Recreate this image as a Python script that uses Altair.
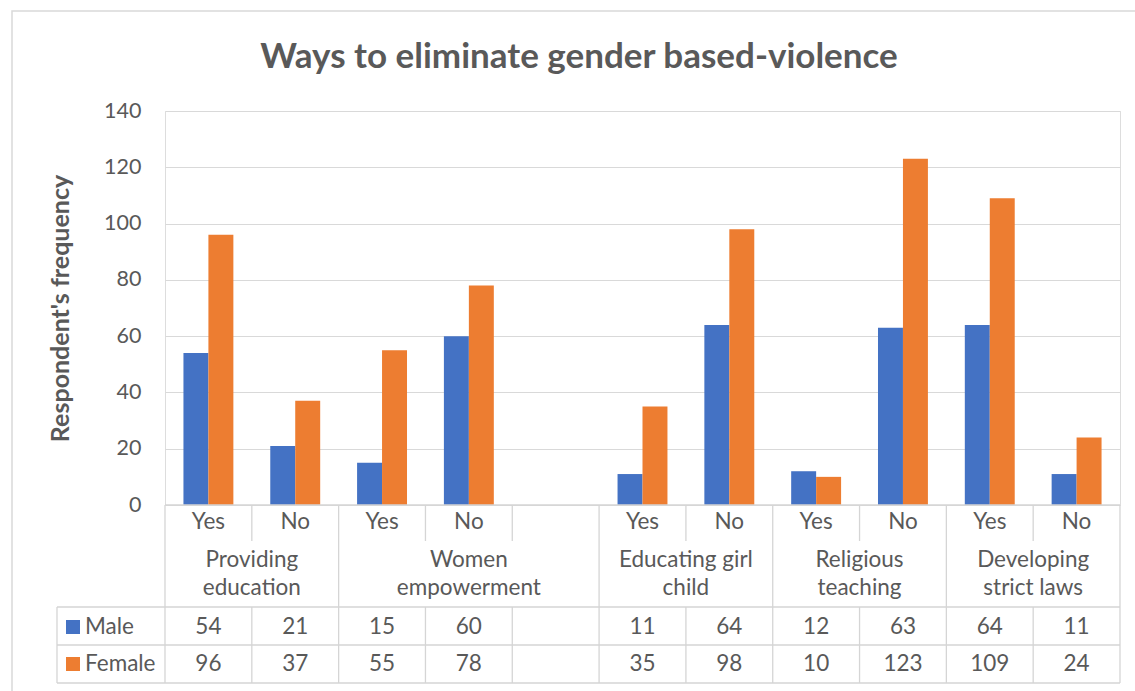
import altair as alt
import pandas as pd

# ---- data -------------------------------------------------------------
title = "Ways to eliminate gender based-violence"
groups = ["Providing\neducation", "Women\nempowerment", "Educating girl\nchild",
          "Religious\nteaching", "Developing\nstrict laws"]
answers = [["Yes", "No"], ["Yes", "No", ""], ["Yes", "No"], ["Yes", "No"], ["Yes", "No"]]
male = [54, 21, 15, 60, None, 11, 64, 12, 63, 64, 11]
female = [96, 37, 55, 78, None, 35, 98, 10, 123, 109, 24]
series = ["Male", "Female"]
colors = ["#4472C4", "#ED7D31"]
y_ticks = [0, 20, 40, 60, 80, 100, 120, 140]

# ---- derived tables ---------------------------------------------------
slot_rows, group_rows = [], []
pos = 0
for g, ans in zip(groups, answers):
    start = pos
    for a in ans:
        slot_rows.append({"slot": f"s{pos}", "pos": pos, "center": pos + 0.5, "answer": a,
                          "first": pos == start})
        pos += 1
    group_rows.append({"group": g, "start": start, "end": pos, "mid": (start + pos) / 2})
n_slots = pos
slots = pd.DataFrame(slot_rows)
slots["male"] = ["" if v is None else str(v) for v in male]
slots["female"] = ["" if v is None else str(v) for v in female]
grp = pd.DataFrame(group_rows)

bars = pd.DataFrame(
    [{"slot": f"s{i}", "sex": s, "value": v}
     for i in range(n_slots)
     for s, v in zip(series, (male[i], female[i])) if v is not None]
)

group_edges = pd.DataFrame({"x": [0] + [r["end"] for r in group_rows]})
inner_edges = pd.DataFrame({"x": [r["pos"] for r in slot_rows if not r["first"]]})
legend_rows = pd.DataFrame({"sex": series, "y": [516, 553]})

# ---- layout constants (pixels inside the plot area) -------------------
W, H = 955, 394
FONT = "Lato"
TXT = "#595959"
LINE = "#d5d5d5"
TSIZE = 22.5
TABLE_LEFT = -108
ROW1_MID, ROW1_BOT = 411, 430
GROUP_TOP_LINE = 449
TOP_MALE, TOP_FEMALE, TABLE_BOT = 496, 534, 572

pos_scale = alt.Scale(domain=[0, n_slots], nice=False, zero=False)
pos_x = alt.X("x:Q", scale=pos_scale, axis=None)

def ctext(df, field, y):
    return alt.Chart(df).mark_text(font=FONT, fontSize=TSIZE, color=TXT, baseline="middle",
                                   align="center").encode(
        x=alt.X("center:Q", scale=pos_scale, axis=None),
        y=alt.value(y),
        text=f"{field}:N",
    )

one = pd.DataFrame({"k": [0]})

# outer chart border (right and bottom edges fall just outside the canvas)
frame = alt.Chart(one).mark_rect(fill=None, stroke="#d9d9d9", strokeWidth=1.5).encode(
    x=alt.value(-153), x2=alt.value(975), y=alt.value(-100), y2=alt.value(586)
)

title_text = alt.Chart(pd.DataFrame({"t": [title]})).mark_text(
    font=FONT, fontSize=35, fontWeight="bold", color=TXT, baseline="middle", align="center"
).encode(x=alt.value(414), y=alt.value(-54), text="t:N")

bar_layer = alt.Chart(bars).mark_bar().encode(
    x=alt.X("slot:N", sort=list(slots["slot"]),
            scale=alt.Scale(domain=list(slots["slot"]), paddingInner=0.425, paddingOuter=0.2125),
            axis=None),
    xOffset=alt.XOffset("sex:N", sort=series,
                        scale=alt.Scale(domain=series, paddingInner=0, paddingOuter=0)),
    y=alt.Y("value:Q",
            scale=alt.Scale(domain=[0, 140], nice=False),
            axis=alt.Axis(values=y_ticks, grid=True, gridColor="#d9d9d9", gridWidth=1,
                          domain=False, ticks=False, labelPadding=24, labelFontSize=21.5,
                          labelFont=FONT, labelColor=TXT,
                          title="Respondent's frequency", titleFont=FONT, titleFontSize=25,
                          titleFontWeight="bold", titleColor=TXT, titlePadding=30)),
    color=alt.Color("sex:N", scale=alt.Scale(domain=series, range=colors), legend=None),
)

full_v = alt.Chart(group_edges).mark_rule(color=LINE, strokeWidth=1.3).encode(
    x=pos_x, y=alt.value(H), y2=alt.value(TABLE_BOT))
inner_v1 = alt.Chart(inner_edges).mark_rule(color=LINE, strokeWidth=1.3).encode(
    x=pos_x, y=alt.value(H), y2=alt.value(ROW1_BOT))
inner_v2 = alt.Chart(inner_edges).mark_rule(color=LINE, strokeWidth=1.3).encode(
    x=pos_x, y=alt.value(TOP_MALE), y2=alt.value(TABLE_BOT))
left_v = alt.Chart(one).mark_rule(color=LINE, strokeWidth=1.3).encode(
    x=alt.value(TABLE_LEFT), y=alt.value(TOP_MALE), y2=alt.value(TABLE_BOT))
h_lines = [
    alt.Chart(one).mark_rule(color=LINE, strokeWidth=1.3).encode(
        x=alt.value(TABLE_LEFT), x2=alt.value(W), y=alt.value(yy))
    for yy in (TOP_MALE, TOP_FEMALE, TABLE_BOT)
]
top_h = alt.Chart(one).mark_rule(color=LINE, strokeWidth=1.3).encode(
    x=alt.value(0), x2=alt.value(W), y=alt.value(H))

answer_text = ctext(slots, "answer", ROW1_MID)
group_text = alt.Chart(grp).mark_text(font=FONT, fontSize=TSIZE, color=TXT, baseline="middle",
                                      align="center", lineBreak="\n", lineHeight=28).encode(
    x=alt.X("mid:Q", scale=pos_scale, axis=None),
    y=alt.value(GROUP_TOP_LINE),
    text="group:N",
)
male_text = ctext(slots, "male", 516)
female_text = ctext(slots, "female", 553)

legend_keys = alt.Chart(legend_rows).mark_square(size=196, opacity=1).encode(
    x=alt.value(-92),
    y=alt.Y("y:Q", scale=None),
    color=alt.Color("sex:N", scale=alt.Scale(domain=series, range=colors), legend=None),
)
legend_text = alt.Chart(legend_rows).mark_text(font=FONT, fontSize=TSIZE, color=TXT,
                                               baseline="middle", align="left").encode(
    x=alt.value(-80),
    y=alt.Y("y:Q", scale=None),
    text="sex:N",
)

chart = alt.layer(
    frame, title_text, bar_layer, top_h, full_v, inner_v1, inner_v2, left_v, *h_lines,
    answer_text, group_text, male_text, female_text, legend_keys, legend_text,
).resolve_scale(x="independent").properties(
    width=W, height=H,
    autosize=alt.AutoSizeParams(type="none"),
    padding={"left": 165, "top": 111, "right": 15, "bottom": 186},
).configure_view(stroke=None).configure(background="white")

chart.save("out.html", embed_options={"renderer": "svg", "actions": False})
